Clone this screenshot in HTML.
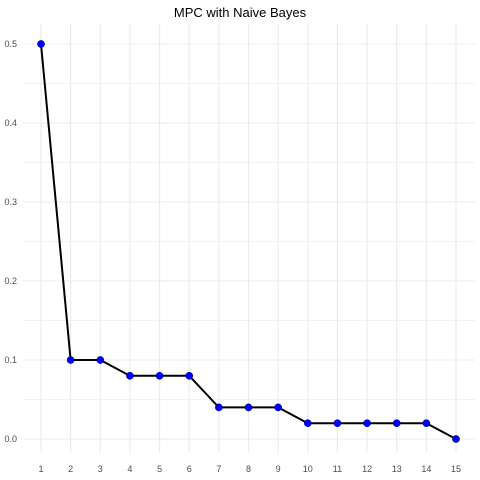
<!DOCTYPE html>
<html><head><meta charset="utf-8"><style>body{margin:0;background:#fff}svg{display:block;font-family:"Liberation Sans",sans-serif}</style></head>
<body>
<svg id="chart" width="480" height="480"></svg>
<script>
const categories=[1,2,3,4,5,6,7,8,9,10,11,12,13,14,15];
const mpcValues=[0.5,0.1,0.1,0.08,0.08,0.08,0.04,0.04,0.04,0.02,0.02,0.02,0.02,0.02,0.0];
const yTicks=[0,0.1,0.2,0.3,0.4,0.5];
const yTickLabels=["0.0","0.1","0.2","0.3","0.4","0.5"];
const ns="http://www.w3.org/2000/svg";
const svg=document.getElementById('chart');
const xS=v=>41+(v-1)*(456-41)/14;
const yS=v=>439-v*790;
function mk(t,a){const e=document.createElementNS(ns,t);for(const k in a)e.setAttribute(k,a[k]);svg.appendChild(e);return e;}
const title=mk('text',{x:240,y:17,'text-anchor':'middle','font-size':13,fill:'#000'});
title.textContent='MPC with Naive Bayes';


for(let i=0;i<yTicks.length-1;i++){const v=(yTicks[i]+yTicks[i+1])/2;const l=mk('line',{x1:23,x2:475,y1:yS(v),y2:yS(v),stroke:'#f2f2f2','stroke-width':1});

}
yTicks.forEach((v,i)=>{const l=mk('line',{x1:23,x2:475,y1:yS(v),y2:yS(v),stroke:'#ebebeb','stroke-width':1.1});


const t=mk('text',{x:17,y:yS(v)+3,'text-anchor':'end','font-size':9,fill:'#4d4d4d'});t.textContent=yTickLabels[i];

});
categories.forEach(c=>{const l=mk('line',{x1:xS(c),x2:xS(c),y1:24,y2:452,stroke:'#ebebeb','stroke-width':1.1});


const t=mk('text',{x:xS(c),y:472,'text-anchor':'middle','font-size':9,fill:'#4d4d4d'});t.textContent=c;

});
const pts=categories.map((c,i)=>xS(c)+','+yS(mpcValues[i])).join(' ');
const line=mk('polyline',{points:pts,fill:'none',stroke:'#000','stroke-width':2});


categories.forEach((c,i)=>{const p=mk('circle',{cx:xS(c),cy:yS(mpcValues[i]),r:3.6,fill:'#0000ff',stroke:'#00008b','stroke-width':0.5});

});
</script>
</body></html>
